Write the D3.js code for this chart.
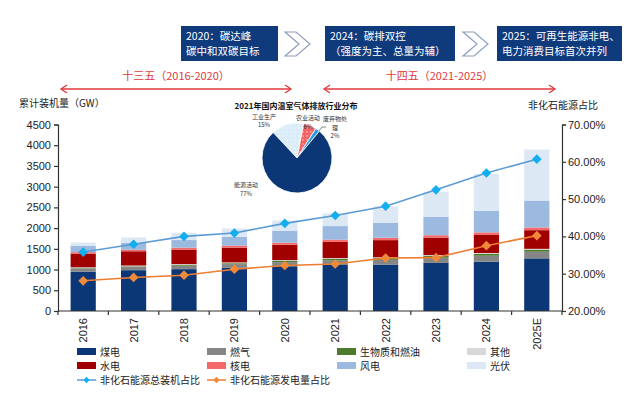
<!DOCTYPE html>
<html>
<head>
<meta charset="utf-8">
<script src="https://cdn.jsdelivr.net/npm/d3@7"></script>
<style>
  body { margin: 0; background: #fff; }
  text { font-family: "Liberation Sans", Arial, sans-serif; }
  .cn { font-family: "Noto Sans CJK SC", sans-serif; }
</style>
</head>
<body>
<script>
// ---- data ----
const years = ["2016","2017","2018","2019","2020","2021","2022","2023","2024","2025E"];
const seriesNames = ["煤电","燃气","生物质和燃油","其他","水电","核电","风电","光伏"];
const coal    = [950, 985, 1010, 1041, 1080, 1110, 1120, 1160, 1190, 1270];
const gas     = [70, 76, 83, 90, 98, 109, 115, 126, 144, 160];
const biomass = [14, 16, 18, 22, 30, 38, 41, 44, 46, 50];
const other   = [20, 20, 20, 20, 20, 20, 20, 20, 20, 20];
const hydro   = [332, 344, 352, 356, 370, 391, 414, 422, 436, 450];
const nuclear = [34, 36, 45, 49, 50, 53, 56, 57, 61, 65];
const wind    = [149, 164, 184, 210, 282, 328, 365, 441, 521, 650];
const solar   = [82, 135, 175, 204, 253, 307, 393, 609, 887, 1230];
const capShare = [0.358, 0.379, 0.400, 0.409, 0.435, 0.456, 0.481, 0.525, 0.570, 0.607];
const genShare = [0.281, 0.290, 0.296, 0.312, 0.322, 0.326, 0.342, 0.343, 0.375, 0.402];
const lineNames = ["非化石能源总装机占比","非化石能源发电量占比"];

const pieNames  = ["工业生产","农业活动","废弃物处理","能源活动"];
const pieValues = [15, 6, 2, 77];

const colors = ["#0c3777","#868686","#4e7a2c","#d8d8d8","#a00000","#f46a6a","#9cb9e0","#dde8f5"];
const lineColors = ["#5b9bd5","#ed7d31"];
const markerColors = ["#14aef0","#f0893a"];
const pieColors = ["#d9ecf8","#f26464","#2a9be0","#0c3777"];

const W = 631, H = 395;
const svg = d3.select("body").append("svg").attr("width", W).attr("height", H);

// ---- top banner ----
const navy = "#0f3b7d";
const boxes = [
  {x:181, w:97, lines:["2020：碳达峰","碳中和双碳目标"]},
  {x:325, w:130, lines:["2024：碳排双控","（强度为主、总量为辅）"]},
  {x:497, w:125, lines:["2025：可再生能源非电、","电力消费目标首次并列"]}
];
boxes.forEach(b => {
  svg.append("rect").attr("x", b.x).attr("y", 26).attr("width", b.w).attr("height", 35).attr("fill", navy);
  b.lines.forEach((t, i) => {
    svg.append("text").attr("class","cn").attr("x", b.x + 5).attr("y", 40 + i*15)
      .attr("fill","#fff").attr("font-size", 10.5).text(t);
  });
});
[285, 463].forEach(cx => {
  svg.append("path")
    .attr("d", `M${cx},32 L${cx+11},32 L${cx+25},44 L${cx+11},56 L${cx},56 L${cx+14},44 Z`)
    .attr("fill","#fff").attr("stroke","#8aa0bf").attr("stroke-width",1.2);
});

const red = "#e0393b";
const periods = [
  {x1:61, x2:291, label:"十三五（2016-2020）"},
  {x1:324, x2:555, label:"十四五（2021-2025）"}
];
periods.forEach(p => {
  const cx = (p.x1 + p.x2) / 2;
  svg.append("text").attr("class","cn").attr("x", cx).attr("y", 80).attr("text-anchor","middle")
    .attr("fill", red).attr("font-size", 11).text(p.label);
  svg.append("line").attr("x1", p.x1).attr("x2", p.x2).attr("y1", 89).attr("y2", 89)
    .attr("stroke", red).attr("stroke-width", 1.3);
  svg.append("path").attr("d", `M${p.x1+6},85 L${p.x1},89 L${p.x1+6},93`).attr("fill","none").attr("stroke",red).attr("stroke-width",1.3);
  svg.append("path").attr("d", `M${p.x2-6},85 L${p.x2},89 L${p.x2-6},93`).attr("fill","none").attr("stroke",red).attr("stroke-width",1.3);
});

// ---- bar chart ----
const plotL = 58, plotR = 562, plotT = 124.5, plotB = 311;
const x = d3.scaleBand().domain(years).range([plotL, plotR]).paddingInner(0.5).paddingOuter(0.25);
const y = d3.scaleLinear().domain([0, 4500]).range([plotB, plotT]);
const y2 = d3.scaleLinear().domain([0.2, 0.7]).range([plotB, plotT]);

const table = years.map((yr, i) => ({
  year: yr, "煤电": coal[i], "燃气": gas[i], "生物质和燃油": biomass[i], "其他": other[i],
  "水电": hydro[i], "核电": nuclear[i], "风电": wind[i], "光伏": solar[i]
}));
const stacked = d3.stack().keys(seriesNames)(table);

svg.append("g").selectAll("g").data(stacked).join("g")
  .attr("fill", (d, i) => colors[i])
  .selectAll("rect").data(d => d).join("rect")
  .attr("x", d => x(d.data.year))
  .attr("width", x.bandwidth())
  .attr("y", d => y(d[1]))
  .attr("height", d => y(d[0]) - y(d[1]));

// axes
const axisColor = "#333";
const gl = svg.append("g").attr("transform", `translate(${plotL},0)`)
  .call(d3.axisLeft(y).tickValues(d3.range(0, 4501, 500)).tickFormat(d3.format("d")).tickSize(4).tickPadding(3));
const gr = svg.append("g").attr("transform", `translate(${plotR},0)`)
  .call(d3.axisRight(y2).tickValues([0.2,0.3,0.4,0.5,0.6,0.7]).tickFormat(d3.format(".2%")).tickSize(4).tickPadding(2));
[gl, gr].forEach(g => {
  g.selectAll("text").attr("font-size", 11).attr("fill", "#222");
  g.selectAll("line,path").attr("stroke", axisColor).attr("stroke-width", 1.2);
});

const bandStep = x.step();
const gx = svg.append("g");
gx.append("line").attr("x1", plotL).attr("x2", plotR).attr("y1", plotB).attr("y2", plotB)
  .attr("stroke", axisColor).attr("stroke-width", 1.2);
gx.selectAll("line.tk").data(d3.range(years.length + 1)).join("line").attr("class","tk")
  .attr("x1", i => plotL + i * bandStep).attr("x2", i => plotL + i * bandStep)
  .attr("y1", plotB).attr("y2", plotB + 4)
  .attr("stroke", axisColor).attr("stroke-width", 1.2);
gx.selectAll("text").data(years).join("text")
  .attr("transform", d => `translate(${x(d) + x.bandwidth()/2 + 4},${plotB + 7}) rotate(-90)`)
  .attr("text-anchor","end").attr("font-size", 11).attr("fill","#222").text(d => d);

svg.append("text").attr("class","cn").attr("x", 19).attr("y", 107).attr("font-size", 10).attr("fill","#222").text("累计装机量（GW）");
svg.append("text").attr("class","cn").attr("x", 528).attr("y", 109).attr("font-size", 10).attr("fill","#222").text("非化石能源占比");

// lines
const cx = d => x(d) + x.bandwidth() / 2;
[capShare, genShare].forEach((arr, k) => {
  const pts = arr.map((v, i) => [cx(years[i]), y2(v)]);
  svg.append("path").attr("d", d3.line()(pts)).attr("fill","none")
    .attr("stroke", lineColors[k]).attr("stroke-width", 1.6);
  svg.append("g").selectAll("path").data(pts).join("path")
    .attr("transform", p => `translate(${p[0]},${p[1]})`)
    .attr("d", d3.symbol(d3.symbolDiamond2, 60))
    .attr("fill", markerColors[k]);
});

// ---- pie ----
const defs = svg.append("defs");
[["dotsInd", "#d9ecf8", "#ffffff"], ["dotsAgr", "#f26464", "#ffd0d0"]].forEach(([id, bg, dot]) => {
  const p = defs.append("pattern").attr("id", id).attr("width", 4).attr("height", 4).attr("patternUnits","userSpaceOnUse");
  p.append("rect").attr("width", 4).attr("height", 4).attr("fill", bg);
  p.append("circle").attr("cx", 2).attr("cy", 2).attr("r", 0.7).attr("fill", dot);
});
const pieFill = ["url(#dotsInd)","url(#dotsAgr)", pieColors[2], pieColors[3]];
const pcx = 297, pcy = 158, pr = 35;
const start = -43 * Math.PI / 180;
const arcs = d3.pie().sort(null).startAngle(start).endAngle(start + 2 * Math.PI)(pieValues);
const arc = d3.arc().innerRadius(0).outerRadius(pr);
svg.append("g").attr("transform", `translate(${pcx},${pcy})`)
  .selectAll("path").data(arcs).join("path")
  .attr("d", arc).attr("fill", (d, i) => pieFill[i]).attr("stroke","#fff").attr("stroke-width", 0.8);

svg.append("text").attr("class","cn").attr("x", 296).attr("y", 109).attr("text-anchor","middle")
  .attr("font-size", 8).attr("font-weight","bold").attr("fill","#111").text("2021年国内温室气体排放行业分布");
const pieLab = [
  {t:["工业生产","15%"], x:264, y:118.5},
  {t:["农业活动","6%"], x:308, y:120},
  {t:["废弃物处","理","2%"], x:335, y:121},
  {t:["能源活动","77%"], x:246, y:187}
];
pieLab.forEach(l => {
  l.t.forEach((s, i) => {
    svg.append("text").attr("class","cn").attr("x", l.x).attr("y", l.y + i * 8.5)
      .attr("text-anchor","middle").attr("font-size", 6).attr("fill","#333").text(s);
  });
});
svg.append("path").attr("d", "M319,131 L322,127 L326,127").attr("fill","none").attr("stroke","#333").attr("stroke-width",0.6);

// ---- legend ----
const legX = [77, 207, 337, 467];
const legY = [352, 366];
seriesNames.forEach((n, i) => {
  const col = i % 4, row = Math.floor(i / 4);
  svg.append("rect").attr("x", legX[col]).attr("y", legY[row] - 4).attr("width", 19).attr("height", 7).attr("fill", colors[i]);
  svg.append("text").attr("class","cn").attr("x", legX[col] + 23).attr("y", legY[row] + 3.5)
    .attr("font-size", 10).attr("fill","#222").text(n);
});
lineNames.forEach((n, k) => {
  const lx = legX[k], ly = 380;
  svg.append("line").attr("x1", lx).attr("x2", lx + 19).attr("y1", ly).attr("y2", ly)
    .attr("stroke", lineColors[k]).attr("stroke-width", 1.5);
  svg.append("path").attr("transform", `translate(${lx + 9.5},${ly})`)
    .attr("d", d3.symbol(d3.symbolDiamond2, 25)).attr("fill", markerColors[k]);
  svg.append("text").attr("class","cn").attr("x", lx + 23).attr("y", ly + 3.5)
    .attr("font-size", 10).attr("fill","#222").text(n);
});
</script>
</body>
</html>
